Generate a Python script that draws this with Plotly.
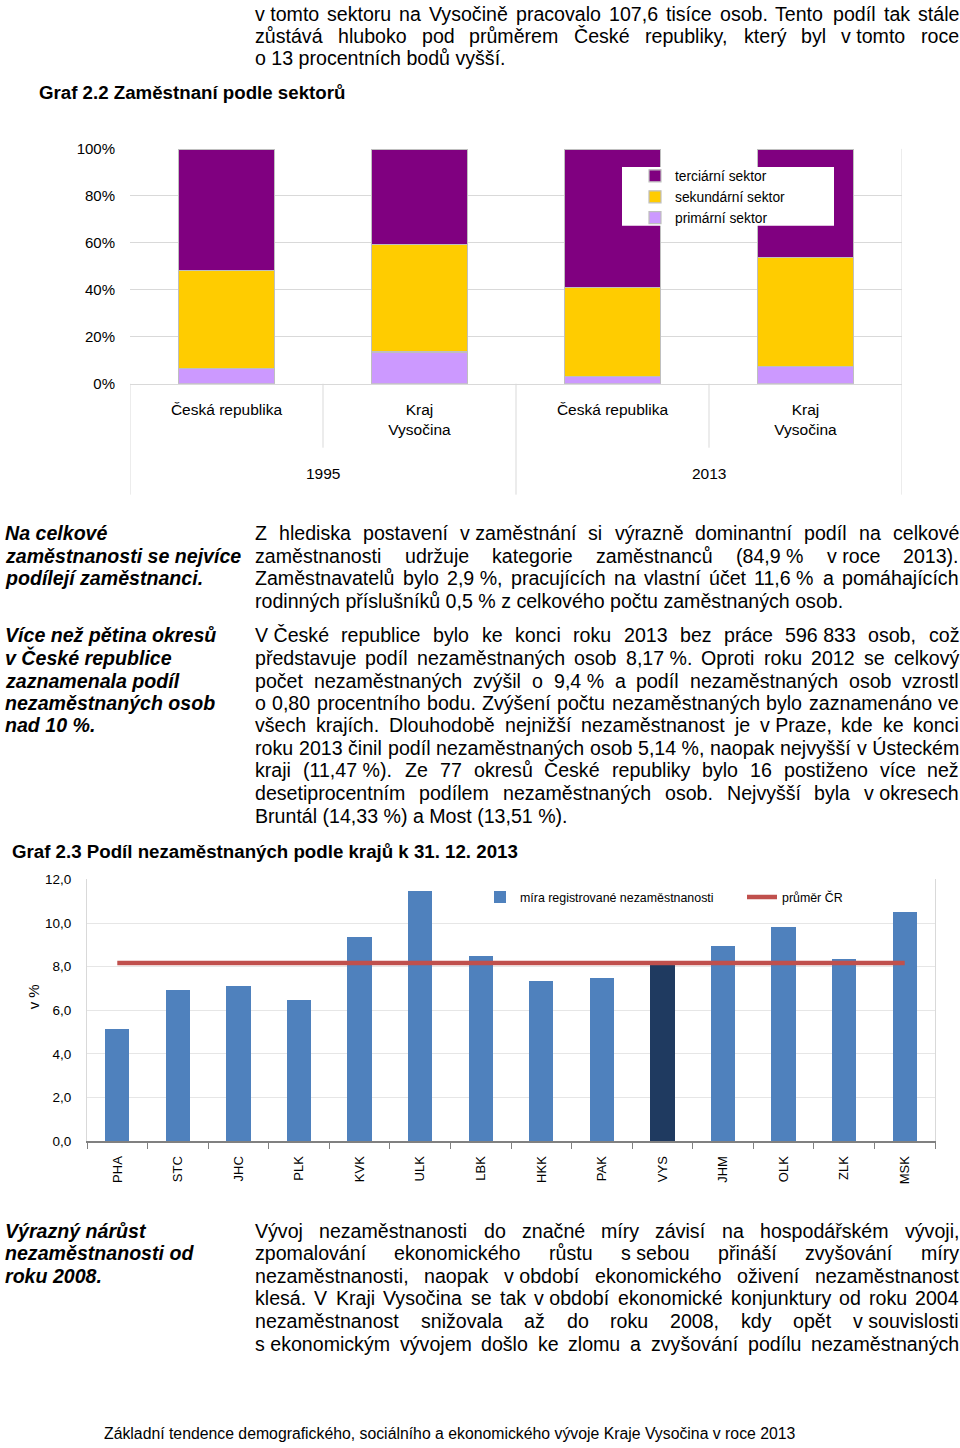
import unicodedata
import plotly.graph_objects as go

# ---------------- data: Graf 2.2 Zaměstnaní podle sektorů ----------------
years = ["1995", "1995", "2013", "2013"]
areas = ["Česká republika", "Kraj<br>Vysočina", "Česká republika", "Kraj<br>Vysočina"]
primary = [6.5, 13.5, 3.1, 7.4]
secondary = [41.8, 45.7, 37.8, 46.3]
tertiary = [51.7, 40.8, 59.1, 46.3]
sector_names = ["primární sektor", "sekundární sektor", "terciární sektor"]

# ---------------- data: Graf 2.3 Podíl nezaměstnaných podle krajů ----------------
regions = ["PHA", "STC", "JHC", "PLK", "KVK", "ULK", "LBK", "HKK", "PAK", "VYS",
           "JHM", "OLK", "ZLK", "MSK"]
unemployment = [5.14, 6.91, 7.12, 6.45, 9.34, 11.47, 8.48, 7.33, 7.47, 8.06,
                8.96, 9.80, 8.35, 10.49]
cr_average = 8.17
highlight_region = "VYS"

# ---------------- texts ----------------
NB = "\u00a0"
title_1 = "Graf 2.2 Zaměstnaní podle sektorů"
title_2 = "Graf 2.3 Podíl nezaměstnaných podle krajů k 31. 12. 2013"
footer = "Základní tendence demografického, sociálního a ekonomického vývoje Kraje Vysočina v roce 2013"

para_top = [
    (f"v{NB}tomto sektoru na Vysočině pracovalo 107,6 tisíce osob. Tento podíl tak stále", True),
    (f"zůstává hluboko pod průměrem České republiky, který byl v{NB}tomto roce", True),
    ("o 13 procentních bodů vyšší.", False),
]
para_2 = [
    (f"Z hlediska postavení v{NB}zaměstnání si výrazně dominantní podíl na celkové", True),
    (f"zaměstnanosti udržuje kategorie zaměstnanců (84,9{NB}% v{NB}roce 2013).", True),
    (f"Zaměstnavatelů bylo 2,9{NB}%, pracujících na vlastní účet 11,6{NB}% a pomáhajících", True),
    (f"rodinných příslušníků 0,5{NB}% z celkového počtu zaměstnaných osob.", False),
]
para_3 = [
    (f"V{NB}České republice bylo ke konci roku 2013 bez práce 596{NB}833 osob, což", True),
    (f"představuje podíl nezaměstnaných osob 8,17{NB}%. Oproti roku 2012 se celkový", True),
    (f"počet nezaměstnaných zvýšil o 9,4{NB}% a podíl nezaměstnaných osob vzrostl", True),
    ("o 0,80 procentního bodu. Zvýšení počtu nezaměstnaných bylo zaznamenáno ve", True),
    (f"všech krajích. Dlouhodobě nejnižší nezaměstnanost je v{NB}Praze, kde ke konci", True),
    (f"roku 2013 činil podíl nezaměstnaných osob 5,14{NB}%, naopak nejvyšší v{NB}Ústeckém", True),
    (f"kraji (11,47{NB}%). Ze 77 okresů České republiky bylo 16 postiženo více než", True),
    (f"desetiprocentním podílem nezaměstnaných osob. Nejvyšší byla v{NB}okresech", True),
    (f"Bruntál (14,33{NB}%) a Most (13,51{NB}%).", False),
]
para_4 = [
    ("Vývoj nezaměstnanosti do značné míry závisí na hospodářském vývoji,", True),
    (f"zpomalování ekonomického růstu s{NB}sebou přináší zvyšování míry", True),
    (f"nezaměstnanosti, naopak v{NB}období ekonomického oživení nezaměstnanost", True),
    (f"klesá. V Kraji Vysočina se tak v{NB}období ekonomické konjunktury od roku 2004", True),
    (f"nezaměstnanost snižovala až do roku 2008, kdy opět v{NB}souvislosti", True),
    (f"s{NB}ekonomickým vývojem došlo ke zlomu a zvyšování podílu nezaměstnaných", True),
]
note_2 = ["Na celkové", "zaměstnanosti se nejvíce", "podílejí zaměstnanci."]
note_3 = ["Více než pětina okresů", "v České republice", "zaznamenala podíl",
          "nezaměstnaných osob", "nad 10 %."]
note_4 = ["Výrazný nárůst", "nezaměstnanosti od", "roku 2008."]

# ---------------- page geometry helpers ----------------
W, H = 960, 1448
TOP, SPAN = 8, 1432   # the photographed page maps figure rows onto 8..1440
FONT = "Arial, 'Liberation Sans', sans-serif"


def px(x):
    return x / W


def py(y):
    return 1 - (y - TOP) / SPAN


ARIAL = {' ': 278, '\u00a0': 278, '%': 889, '(': 333, ')': 333, ',': 278, '-': 333,
         '.': 278, ':': 278, ';': 278,
         'A': 667, 'B': 667, 'C': 722, 'D': 722, 'E': 667, 'F': 611, 'G': 778, 'H': 722,
         'I': 278, 'J': 500, 'K': 667, 'L': 556, 'M': 833, 'N': 722, 'O': 778, 'P': 667,
         'Q': 778, 'R': 722, 'S': 667, 'T': 611, 'U': 722, 'V': 667, 'W': 944, 'X': 667,
         'Y': 667, 'Z': 611,
         'a': 556, 'b': 556, 'c': 500, 'd': 556, 'e': 556, 'f': 278, 'g': 556, 'h': 556,
         'i': 222, 'j': 222, 'k': 500, 'l': 222, 'm': 833, 'n': 556, 'o': 556, 'p': 556,
         'q': 556, 'r': 333, 's': 500, 't': 278, 'u': 556, 'v': 500, 'w': 722, 'x': 500,
         'y': 500, 'z': 500, 'í': 278}


def text_width(s, size):
    tot = 0
    for ch in s:
        if ch in ARIAL:
            tot += ARIAL[ch]
        elif ch.isdigit():
            tot += 556
        else:
            base = unicodedata.normalize("NFD", ch)[0]
            tot += ARIAL.get(base, 556)
    return tot * size / 1000.0


annotations = []
BODY = 19.6
X0, X1 = 254, 958


def add_text(text, x, y, size=BODY, bold=False, italic=False, anchor="left", angle=0):
    t = text
    if bold:
        t = f"<b>{t}</b>"
    if italic:
        t = f"<i>{t}</i>"
    annotations.append(dict(text=t, x=px(x), y=py(y), xref="paper", yref="paper",
                            xanchor=anchor, yanchor="middle", showarrow=False,
                            borderpad=0, textangle=angle,
                            font=dict(family=FONT, size=size, color="black")))


def add_paragraph(lines, y_positions):
    for (line, justify), y in zip(lines, y_positions):
        if not justify:
            add_text(line, X0, y)
            continue
        words = line.split(" ")
        widths = [text_width(w, BODY) for w in words]
        gap = (X1 - X0 - sum(widths)) / (len(words) - 1)
        x = X0
        for w, wd in zip(words, widths):
            add_text(w, x, y)
            x += wd + gap


add_paragraph(para_top, [13, 35, 57])
add_paragraph(para_2, [532, 555, 577, 600])
add_paragraph(para_3, [634, 657, 680, 702, 725, 748, 770, 793, 816])
add_paragraph(para_4, [1231, 1253, 1276, 1298, 1321, 1344])

for line, y in zip(note_2, [532, 555, 577]):
    add_text(line, 4, y, size=19.6, bold=True, italic=True)
for line, y in zip(note_3, [634, 657, 680, 702, 725]):
    add_text(line, 4, y, size=19.6, bold=True, italic=True)
for line, y in zip(note_4, [1231, 1253, 1276]):
    add_text(line, 4, y, size=19.6, bold=True, italic=True)

add_text(title_1, 38, 92, size=18.7, bold=True)
add_text(title_2, 11, 851, size=18.7, bold=True)
add_text(footer, 450, 1433, size=15.8, anchor="center")

# ---------------- figure ----------------
fig = go.Figure()

cat_keys = [f"{y}|{a}" for y, a in zip(years, areas)]
sector_values = [primary, secondary, tertiary]
sector_colors = ["#CC99FF", "#FFCC00", "#800080"]
for name, vals, col in zip(sector_names, sector_values, sector_colors):
    fig.add_trace(go.Bar(x=cat_keys, y=vals, name=name, width=0.5,
                         marker=dict(color=col, line=dict(color="#bfbfbf", width=1.2)),
                         xaxis="x", yaxis="y", legend="legend"))

bar_colors = ["#1F3A60" if r == highlight_region else "#4F81BD" for r in regions]
fig.add_trace(go.Bar(x=regions, y=unemployment, name="míra registrované nezaměstnanosti",
                     width=0.4, marker=dict(color=bar_colors, line=dict(width=0)),
                     xaxis="x2", yaxis="y2", legend="legend2"))
fig.add_trace(go.Scatter(x=regions, y=[cr_average] * len(regions), mode="lines",
                         name="průměr ČR", line=dict(color="#C0504D", width=4.5),
                         xaxis="x2", yaxis="y2", legend="legend3"))

GRID = "#d9d9d9"
shapes = []
# legend background box for Graf 2.2
shapes.append(dict(type="rect", xref="paper", yref="paper", x0=px(622), x1=px(834),
                   y0=py(225), y1=py(166), fillcolor="white", line=dict(width=0),
                   layer="above"))
# category dividers of Graf 2.2
for pos, ybottom in [(-0.5, 494), (0.5, 447), (1.5, 494), (2.5, 447)]:
    shapes.append(dict(type="line", xref="x", yref="paper", x0=pos, x1=pos,
                       y0=py(ybottom), y1=py(383), line=dict(color=GRID, width=1)))
shapes.append(dict(type="line", xref="x", yref="paper", x0=3.5, x1=3.5,
                   y0=py(494), y1=py(148), line=dict(color=GRID, width=1)))

for i, yr in enumerate(["1995", "2013"]):
    annotations.append(dict(text=yr, x=2 * i + 0.5, y=py(473), xref="x", yref="paper",
                            showarrow=False, xanchor="center", yanchor="middle",
                            font=dict(family=FONT, size=15.5, color="black")))
add_text("v %", 33, 997, size=15, anchor="center", angle=-90)

fig.update_layout(
    width=W, height=H, autosize=False,
    margin=dict(l=0, r=0, t=0, b=0),
    paper_bgcolor="white", plot_bgcolor="white",
    barmode="stack", separators=", ",
    font=dict(family=FONT, color="black"),
    xaxis=dict(domain=[px(130), px(902)], anchor="y", type="category",
               range=[-0.5, 3.5], tickvals=cat_keys, ticktext=areas,
               showgrid=False, showline=True, linecolor=GRID, ticks="",
               ticklabelstandoff=12, tickfont=dict(size=15.5, color="black")),
    yaxis=dict(domain=[py(383), py(148)], anchor="x", range=[0, 100], dtick=20,
               ticksuffix="%", showgrid=True, gridcolor=GRID, zeroline=False,
               showline=False, ticks="", ticklabelstandoff=14,
               tickfont=dict(size=15, color="black")),
    xaxis2=dict(domain=[px(87), px(935)], anchor="y2", type="category",
                range=[-0.5, len(regions) - 0.5], tickangle=-90,
                ticks="outside", tickson="boundaries", ticklen=6, tickcolor="#808080",
                showline=True, linecolor="#808080", linewidth=1.5, showgrid=False,
                ticklabelstandoff=8, tickfont=dict(size=13, color="black")),
    yaxis2=dict(domain=[py(1141), py(879)], anchor="x2", range=[0, 12], dtick=2,
                tickformat=".1f", showgrid=True, gridcolor="#e6e6e6", zeroline=False,
                showline=True, mirror=True, linecolor=GRID, ticks="",
                ticklabelstandoff=12, tickfont=dict(size=13.5, color="black")),
    legend=dict(x=px(635), y=py(196), xanchor="left", yanchor="middle",
                bgcolor="rgba(0,0,0,0)", traceorder="reversed",
                font=dict(family=FONT, size=13.8, color="black")),
    legend2=dict(x=px(480), y=py(897), xanchor="left", yanchor="middle",
                 orientation="h", bgcolor="rgba(0,0,0,0)",
                 font=dict(family=FONT, size=12.4, color="black")),
    legend3=dict(x=px(742), y=py(897), xanchor="left", yanchor="middle",
                 orientation="h", bgcolor="rgba(0,0,0,0)",
                 font=dict(family=FONT, size=12.4, color="black")),
    shapes=shapes,
    annotations=annotations,
)

PAGE_FIX = (
    "document.documentElement.style.margin='0px';"
    "document.documentElement.style.padding='0px';"
    "document.body.style.margin='0px';"
    "document.body.style.padding='0px';"
)

fig.write_html(
    "out.html",
    config={"displayModeBar": False},
    post_script=PAGE_FIX,
)
